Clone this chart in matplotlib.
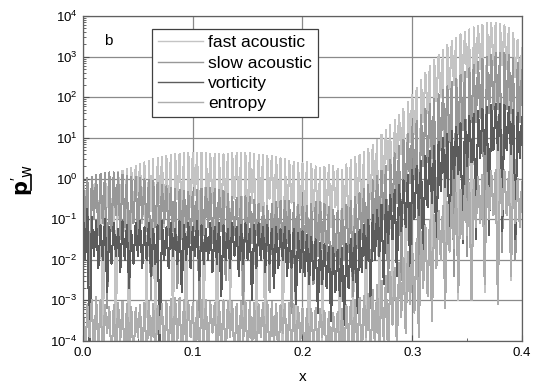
import numpy as np
import matplotlib
matplotlib.use("Agg")
import matplotlib.pyplot as plt
from matplotlib.ticker import LogLocator, MultipleLocator, FormatStrFormatter
from matplotlib.lines import Line2D

plt.rcParams["font.family"] = ["Liberation Sans", "DejaVu Sans"]
plt.rcParams["mathtext.default"] = "regular"

labels = ["fast acoustic", "slow acoustic", "vorticity", "entropy"]
colors = ["#c4c4c4", "#989898", "#5c5c5c", "#adadad"]

# log10 of p'_w at the crests (x = 0, 0.004, ..., 0.4) and troughs in between
fast_peaks = [
    0.00, 0.01, 0.02, 0.03, 0.05, 0.08, 0.10, 0.12, 0.15, 0.19,
    0.23, 0.27, 0.31, 0.35, 0.40, 0.44, 0.48, 0.51, 0.54, 0.56,
    0.58, 0.60, 0.61, 0.62, 0.63, 0.63, 0.64, 0.63, 0.62, 0.61,
    0.60, 0.60, 0.60, 0.61, 0.62, 0.63, 0.63, 0.63, 0.62, 0.60,
    0.58, 0.57, 0.56, 0.55, 0.53, 0.50, 0.47, 0.43, 0.40, 0.38,
    0.38, 0.40, 0.37, 0.30, 0.26, 0.29, 0.33, 0.30, 0.23, 0.22,
    0.35, 0.46, 0.52, 0.58, 0.65, 0.72, 0.83, 0.95, 1.08, 1.20,
    1.33, 1.45, 1.57, 1.72, 1.88, 2.05, 2.23, 2.42, 2.60, 2.77,
    2.91, 3.04, 3.16, 3.28, 3.38, 3.47, 3.55, 3.61, 3.67, 3.72,
    3.76, 3.79, 3.82, 3.83, 3.83, 3.81, 3.77, 3.70, 3.58, 3.42,
    3.22,
]
fast_troughs = [
    -0.8, -3.6, -0.5, -1.2, -4.5, -0.7, -1.0, -3.9, -0.6, -1.3,
    -4.5, -0.9, -0.4, -1.1, -3.4, -0.8, -4.5, -0.6, -1.2, -0.9,
    -3.8, -0.5, -1.0, -4.5, -0.7, -0.4, -1.4, -4.2, -0.8, -0.6,
    -4.5, -1.1, -0.7, -3.5, -0.5, -0.9, -4.5, -1.2, -0.6, -3.9,
    -0.8, -4.4, -0.5, -1.0, -0.7, -4.5, -1.2, -0.6, -3.7, -0.9,
    -1.1, -4.5, -0.8, -1.3, -4.0, -0.9, -1.2, -0.7, -4.5, -1.0,
    -1.2, -3.8, -0.6, -0.9, -4.5, -0.5, -0.3, -3.5, -0.1, 0.2,
    -3.2, 0.5, 0.6, -3.6, 0.9, 1.1, -2.9, 1.4, 1.6, -3.3,
    1.9, 2.0, -2.6, 2.2, 2.3, -3.0, 2.4, 2.5, -2.4, 2.6,
    2.7, -2.8, 2.8, 2.8, -2.2, 2.8, 2.7, -2.5, 2.5, 2.3,
]

slow_peaks = [
    -0.02, 0.02, 0.05, 0.08, 0.11, 0.13, 0.15, 0.15, 0.13, 0.10,
    0.07, 0.05, 0.03, 0.01, -0.02, -0.04, -0.07, -0.11, -0.15, -0.19,
    -0.22, -0.25, -0.28, -0.31, -0.33, -0.32, -0.28, -0.25, -0.24, -0.24,
    -0.25, -0.27, -0.30, -0.38, -0.46, -0.48, -0.46, -0.44, -0.45, -0.52,
    -0.62, -0.70, -0.68, -0.62, -0.57, -0.55, -0.54, -0.55, -0.60, -0.66,
    -0.70, -0.67, -0.62, -0.58, -0.58, -0.62, -0.70, -0.78, -0.80, -0.74,
    -0.64, -0.56, -0.46, -0.36, -0.26, -0.16, -0.05, 0.07, 0.19, 0.32,
    0.46, 0.62, 0.79, 0.95, 1.10, 1.26, 1.42, 1.57, 1.71, 1.84,
    1.96, 2.07, 2.17, 2.27, 2.37, 2.46, 2.55, 2.63, 2.71, 2.80,
    2.87, 2.94, 3.00, 3.05, 3.09, 3.10, 3.09, 3.05, 2.97, 2.85,
    2.68,
]
slow_troughs = [
    -1.2, -2.6, -1.0, -1.4, -1.1, -3.2, -1.3, -0.9, -1.5, -1.2,
    -2.4, -1.1, -1.4, -1.0, -1.3, -3.0, -1.2, -1.5, -1.1, -1.4,
    -1.3, -2.7, -1.5, -1.2, -1.6, -1.3, -3.4, -1.4, -1.2, -1.6,
    -1.5, -1.3, -2.5, -1.6, -1.4, -1.7, -3.1, -1.5, -1.6, -1.4,
    -1.8, -1.6, -2.8, -1.7, -1.5, -1.8, -1.6, -3.3, -1.7, -1.9,
    -1.7, -1.8, -2.6, -1.9, -1.7, -2.0, -3.5, -1.9, -2.1, -2.0,
    -1.8, -2.9, -1.7, -1.5, -1.6, -3.2, -1.3, -1.2, -1.0, -2.8,
    -0.8, -0.6, -2.5, -0.3, -0.1, 0.0, -2.6, 0.3, 0.4, 0.5,
    -2.2, 0.7, 0.8, 0.9, -2.4, 1.1, 1.2, -1.9, 1.4, 1.4,
    1.5, -2.1, 1.6, 1.7, 1.7, -1.8, 1.7, 1.6, -2.0, 1.4,
]

vort_peaks = [
    -0.80, -0.75, -0.95, -1.05, -1.15, -1.00, -1.20, -1.10, -1.25, -1.05,
    -1.15, -1.30, -1.10, -1.05, -1.20, -1.10, -1.25, -1.15, -1.05, -1.20,
    -1.10, -1.25, -1.05, -1.15, -1.10, -1.20, -1.05, -1.15, -1.25, -1.10,
    -1.20, -1.10, -1.15, -1.25, -1.10, -1.20, -1.15, -1.10, -1.25, -1.15,
    -1.10, -1.20, -1.15, -1.25, -1.20, -1.25, -1.20, -1.30, -1.25, -1.35,
    -1.30, -1.40, -1.45, -1.50, -1.58, -1.62, -1.68, -1.72, -1.76, -1.72,
    -1.60, -1.48, -1.37, -1.26, -1.14, -1.02, -0.90, -0.77, -0.65, -0.52,
    -0.40, -0.28, -0.16, -0.04, 0.08, 0.20, 0.32, 0.44, 0.56, 0.68,
    0.80, 0.90, 1.00, 1.09, 1.18, 1.27, 1.36, 1.45, 1.53, 1.60,
    1.66, 1.71, 1.76, 1.80, 1.83, 1.84, 1.82, 1.77, 1.70, 1.62,
    1.52,
]
vort_troughs = [
    -2.0, -4.5, -1.9, -2.2, -2.0, -2.8, -2.1, -1.9, -2.3, -2.0,
    -2.7, -2.1, -1.9, -2.2, -2.0, -2.4, -2.1, -4.5, -2.0, -2.2,
    -1.9, -2.1, -2.8, -2.0, -2.2, -1.9, -2.5, -2.1, -2.0, -2.3,
    -2.1, -2.9, -2.0, -2.2, -1.9, -2.4, -2.1, -2.0, -3.0, -2.2,
    -2.0, -2.3, -2.1, -2.7, -2.2, -2.0, -2.4, -2.2, -3.1, -2.3,
    -2.4, -2.6, -2.5, -3.3, -2.6, -2.7, -3.5, -2.8, -2.9, -3.6,
    -2.7, -2.5, -3.3, -2.3, -2.2, -2.9, -2.0, -1.9, -2.6, -1.6,
    -1.5, -2.4, -1.3, -1.2, -2.2, -1.0, -0.9, -2.0, -0.7, -0.6,
    -1.9, -0.3, -0.2, -1.8, 0.0, 0.1, -1.6, 0.3, 0.4, -1.5,
    0.5, 0.6, -1.4, 0.7, 0.7, -1.3, 0.7, 0.6, -1.5, 0.5,
]

ent_peaks = [
    -3.15, -3.10, -2.98, -2.92, -3.00, -3.12, -3.17, -3.12, -3.06, -3.04,
    -3.08, -3.15, -3.18, -3.12, -3.06, -3.05, -3.09, -3.14, -3.10, -3.03,
    -2.97, -2.94, -2.94, -2.98, -3.04, -3.06, -3.02, -2.99, -3.00, -3.04,
    -3.07, -3.03, -3.00, -3.01, -3.05, -3.08, -3.04, -3.01, -3.03, -3.07,
    -3.10, -3.06, -3.02, -3.04, -3.08, -3.12, -3.10, -3.07, -3.10, -3.15,
    -3.19, -3.22, -3.20, -3.19, -3.22, -3.26, -3.29, -3.30, -3.28, -3.22,
    -3.12, -3.03, -2.98, -2.94, -2.89, -2.84, -2.74, -2.63, -2.52, -2.41,
    -2.30, -2.19, -2.08, -1.95, -1.80, -1.65, -1.49, -1.32, -1.15, -1.02,
    -0.90, -0.79, -0.68, -0.57, -0.46, -0.36, -0.27, -0.18, -0.10, -0.03,
    0.03, 0.09, 0.14, 0.18, 0.21, 0.22, 0.20, 0.15, 0.08, 0.00,
    -0.08,
]
ent_troughs = [
    -4.5, -3.9, -4.5, -4.2, -4.5, -3.8, -4.5, -4.5, -4.0, -4.5,
    -4.3, -4.5, -3.9, -4.5, -4.5, -4.1, -4.5, -3.8, -4.5, -4.4,
    -4.5, -4.0, -4.5, -4.2, -3.9, -4.5, -4.5, -4.1, -4.5, -3.8,
    -4.5, -4.3, -4.5, -3.9, -4.5, -4.5, -4.0, -4.5, -4.2, -4.5,
    -3.9, -4.5, -4.5, -4.1, -4.5, -3.8, -4.5, -4.3, -4.5, -4.0,
    -4.5, -4.5, -4.2, -4.5, -3.9, -4.5, -4.5, -4.1, -4.5, -4.5,
    -4.0, -4.5, -4.3, -4.5, -3.9, -4.5, -4.2, -4.5, -4.0, -4.5,
    -3.6, -4.2, -3.4, -3.8, -3.1, -3.3, -3.9, -2.7, -2.9, -3.5,
    -2.2, -2.0, -3.2, -1.8, -1.7, -2.8, -1.5, -1.4, -3.0, -1.2,
    -1.1, -2.6, -1.0, -0.9, -3.1, -0.9, -0.9, -2.4, -1.1, -1.2,
]


def zigzag(peaks, troughs):
    # crests on even samples, troughs on odd samples
    y = np.empty(len(peaks) + len(troughs))
    y[0::2] = peaks
    y[1::2] = troughs
    return 10.0 ** y


series = [
    zigzag(fast_peaks, fast_troughs),
    zigzag(slow_peaks, slow_troughs),
    zigzag(vort_peaks, vort_troughs),
    zigzag(ent_peaks, ent_troughs),
]
x = np.linspace(0.0, 0.4, len(series[0]))

fig = plt.figure(figsize=(5.34, 3.88), dpi=100)
ax = fig.add_axes([0.1554, 0.1211, 0.8221, 0.8376])

for vals, lab, col in zip(series, labels, colors):
    ax.plot(x, vals, color=col, lw=0.75, label=lab, antialiased=False)

ax.set_yscale("log")
ax.set_xlim(0.0, 0.4)
ax.set_ylim(1e-4, 1e4)
ax.xaxis.set_major_locator(MultipleLocator(0.1))
ax.xaxis.set_minor_locator(MultipleLocator(0.05))
ax.xaxis.set_major_formatter(FormatStrFormatter("%.1f"))
ax.yaxis.set_major_locator(LogLocator(base=10, numticks=20))
ax.yaxis.set_minor_locator(LogLocator(base=10, subs=np.arange(2, 10), numticks=20))

ax.grid(True, which="major", color="#8a8a8a", lw=0.9)
ax.tick_params(which="both", direction="in", top=False, right=False,
               colors="#505050", labelcolor="black", labelsize=9.5)
ax.tick_params(which="major", length=4, pad=4)
ax.tick_params(which="minor", length=2.5)
for sp in ax.spines.values():
    sp.set_color("#606060")
    sp.set_linewidth(0.9)

ax.set_xlabel("x", fontsize=11, labelpad=8)
fig.text(0.041, 0.535, r"$\mathbf{p}'_{\mathrm{w}}$", rotation=90,
         fontsize=15, ha="center", va="center")
fig.add_artist(Line2D([0.058, 0.058], [0.51, 0.55], color="black", lw=1.2))

ax.text(0.048, 0.945, "b", transform=ax.transAxes, fontsize=11, va="top")

leg = ax.legend(loc="upper left", bbox_to_anchor=(0.157, 0.96),
                borderaxespad=0, fontsize=12.5, handlelength=2.6,
                handletextpad=0.3, labelspacing=0.3, borderpad=0.35,
                fancybox=False, framealpha=1, edgecolor="#404040")
leg.get_frame().set_linewidth(0.9)
for h in leg.get_lines():
    h.set_linewidth(1.0)
    h.set_antialiased(True)

fig.savefig("out.png", dpi=100)
